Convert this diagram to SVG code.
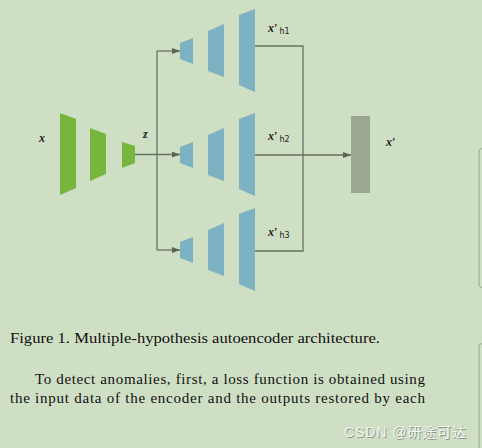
<svg xmlns="http://www.w3.org/2000/svg" width="482" height="448" viewBox="0 0 482 448">
<defs>
<marker id="ah" viewBox="0 0 8 6" refX="8" refY="3" markerWidth="8" markerHeight="6" markerUnits="userSpaceOnUse" orient="auto">
<path d="M0,0 L8,3 L0,6 Z" fill="#5a6455"/>
</marker>
<style>
.enc{fill:#77b53c}
.dec{fill:#7db2c3}
.ln{fill:none;stroke:#66715f;stroke-width:1.3}
.lab{font-family:"Liberation Serif",serif;font-style:italic;font-weight:bold;font-size:12px;fill:#222}
.sub{font-size:8px;font-style:normal;font-weight:normal;font-family:"DejaVu Sans",sans-serif}
.cap{font-family:"Liberation Serif",serif;font-size:15px;fill:#111}
.wm{font-family:"Liberation Sans","Noto Sans CJK SC",sans-serif;font-size:14px}
</style>
</defs>
<rect width="482" height="448" fill="#cfdfc4"/>
<g id="encoder">
<polygon class="enc" points="60,113 76,119 76,188 60,195"/>
<polygon class="enc" points="90,128 106,134 106,174 90,181"/>
<polygon class="enc" points="122,142 135,146 135,163 122,168"/>
</g>
<g id="decoder-h1">
<polygon class="dec" points="180,43 193,38 193,64 180,59"/>
<polygon class="dec" points="208,31 224,24 224,77 208,71"/>
<polygon class="dec" points="239,15 255,9 255,92 239,85"/>
</g>
<g id="decoder-h2" transform="translate(0,104)">
<polygon class="dec" points="180,43 193,38 193,64 180,59"/>
<polygon class="dec" points="208,31 224,24 224,77 208,71"/>
<polygon class="dec" points="239,15 255,9 255,92 239,85"/>
</g>
<g id="decoder-h3" transform="translate(0,199)">
<polygon class="dec" points="180,43 193,38 193,64 180,59"/>
<polygon class="dec" points="208,31 224,24 224,77 208,71"/>
<polygon class="dec" points="239,15 255,9 255,92 239,85"/>
</g>
<g id="output">
<rect x="351" y="116" width="19" height="77" fill="#9aa791"/>
</g>
<g id="connectors">
<path class="ln" d="M135,154.5 H180" marker-end="url(#ah)"/>
<path class="ln" d="M157,51 V250"/>
<path class="ln" d="M157,51 H180" marker-end="url(#ah)"/>
<path class="ln" d="M157,250 H180" marker-end="url(#ah)"/>
<path class="ln" d="M255,46 H303 V251 H255"/>
<path class="ln" d="M255,155 H351" marker-end="url(#ah)"/>
</g>
<g id="labels">
<text class="lab" x="39" y="142">x</text>
<text class="lab" x="143" y="138">z</text>
<text class="lab" x="268" y="32">x′<tspan class="sub" dx="2" dy="2">h1</tspan></text>
<text class="lab" x="268" y="140">x′<tspan class="sub" dx="2" dy="2">h2</tspan></text>
<text class="lab" x="268" y="236">x′<tspan class="sub" dx="2" dy="2">h3</tspan></text>
<text class="lab" x="386" y="146">x′</text>
</g>
<text class="cap" x="10" y="343" textLength="370" lengthAdjust="spacingAndGlyphs">Figure 1. Multiple-hypothesis autoencoder architecture.</text>
<text class="cap" x="35" y="384" textLength="390" lengthAdjust="spacing">To detect anomalies, first, a loss function is obtained using</text>
<text class="cap" x="10" y="403" textLength="415" lengthAdjust="spacing">the input data of the encoder and the outputs restored by each</text>
<text class="wm" x="345" y="438" fill="#8f978a" textLength="122">CSDN @研途可达</text>
<text class="wm" x="344" y="437" fill="#f3f6f0" textLength="122">CSDN @研途可达</text>
<path d="M482,148.5 Q479,149 479,152 V284 Q479,287 482,287.5" fill="none" stroke="#9ca497" stroke-width="1"/>
<path d="M482,343.5 Q479,344 479,347 V448" fill="none" stroke="#9ca497" stroke-width="1"/>
</svg>
